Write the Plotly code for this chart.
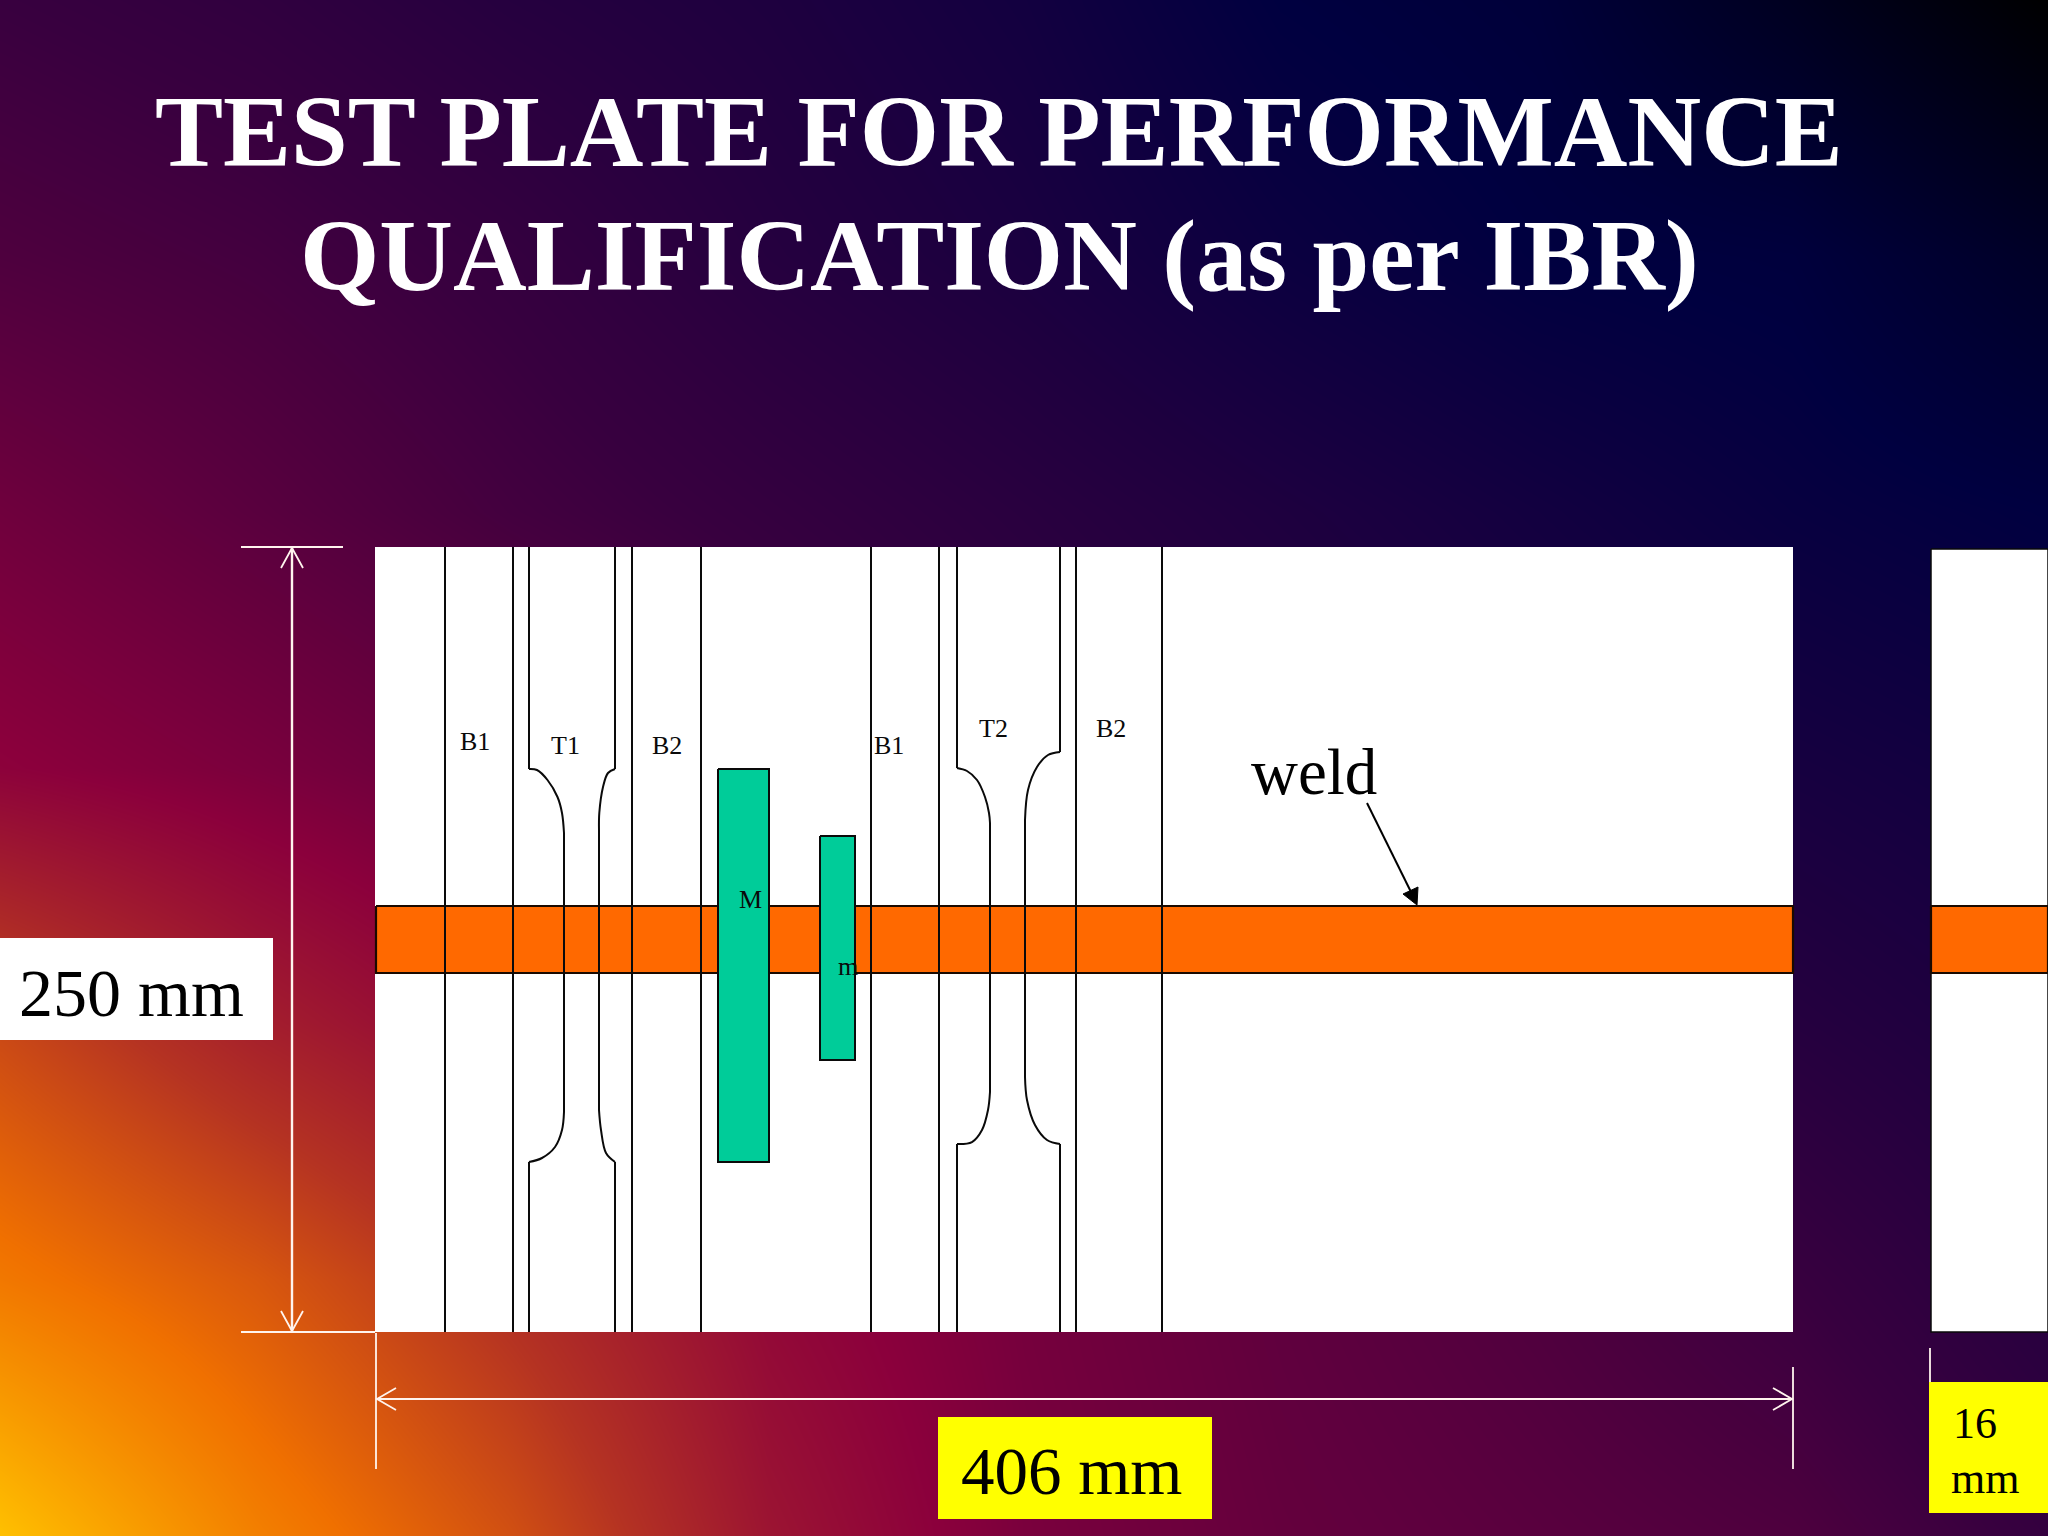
"""Test plate diagram drawn with Plotly on a pixel-sized canvas."""
import plotly.graph_objects as go

W, H = 2048, 1536
SERIF = "Liberation Serif"

# background tone: rows top to bottom, columns left to right
bg_x = [0, 256, 512, 768, 1024, 1280, 1536, 1792, 2048]
bg_y = [0, 256, 512, 768, 1024, 1280, 1536]
bg_t = [
    [0.35, 0.33, 0.30, 0.28, 0.25, 0.20, 0.18, 0.10, 0.00],
    [0.39, 0.37, 0.34, 0.30, 0.27, 0.23, 0.20, 0.19, 0.12],
    [0.45, 0.41, 0.37, 0.34, 0.31, 0.28, 0.25, 0.22, 0.20],
    [0.505, 0.47, 0.43, 0.38, 0.34, 0.31, 0.28, 0.26, 0.24],
    [0.70, 0.59, 0.51, 0.44, 0.39, 0.34, 0.31, 0.30, 0.27],
    [0.82, 0.74, 0.63, 0.52, 0.46, 0.42, 0.39, 0.35, 0.30],
    [1.00, 0.84, 0.72, 0.56, 0.47, 0.43, 0.41, 0.39, 0.34],
]
bg_ramp = [
    [0.00, "#000000"],
    [0.20, "#000040"],
    [0.35, "#38003f"],
    [0.50, "#8b003c"],
    [0.65, "#b53322"],
    [0.80, "#f07000"],
    [1.00, "#ffc000"],
]

plate_x = [375, 1793]
plate_y = [547, 1332]
side_plate_x = [1931, 2048]
side_plate_y = [549, 1332]
weld_y = [906, 973]
weld_x = [376, 1793]
side_weld_x = [1931, 2048]
macro_x = [718, 769]
macro_y = [769, 1162]
micro_x = [820, 855]
micro_y = [836, 1060]

cut_x = [445, 513, 632, 701, 871, 939, 1076, 1162]

# tensile specimen edges: outer line, shoulder curve, neck, shoulder curve, outer line
t1_left_top = ([529, 537, 547.5, 557.5, 562, 564], [769, 770, 780, 797, 813, 833])
t1_left_bot = ([564, 562, 555, 542, 529], [1112, 1130, 1147, 1158, 1162])
t1_right_top = ([615, 608, 603, 599.3, 599], [769, 773, 787, 813, 830])
t1_right_bot = ([599, 601, 606, 615], [1110, 1130, 1153, 1162])
t2_left_top = ([957, 967, 977, 985, 989, 990], [768, 771, 780, 797, 813, 823])
t2_left_bot = ([990, 988, 982, 972, 957], [1092, 1110, 1130, 1142, 1144])
t2_right_top = ([1060, 1048, 1037, 1028, 1025], [752, 755, 767, 790, 820])
t2_right_bot = ([1025, 1027, 1035, 1047, 1060], [1077, 1100, 1125, 1140, 1144])

specimen_labels = ["B1", "T1", "B2", "M", "m", "B1", "T2", "B2"]
specimen_label_x = [475, 565, 667, 750, 848, 889, 993, 1111]
specimen_label_y = [741, 745, 745, 899, 966, 745, 728, 728]

weld_arrow_x = [1367, 1411]
weld_arrow_y = [803, 892]
weld_head_x = [1403, 1418, 1417, 1403]
weld_head_y = [894, 887, 905, 894]

title_lines = ["TEST PLATE FOR PERFORMANCE", "QUALIFICATION (as per IBR)"]
title_y = [131, 255]


def rect(xs, ys, fill, line_color=None, line_width=0):
    return go.Scatter(
        x=[xs[0], xs[1], xs[1], xs[0], xs[0]],
        y=[ys[0], ys[0], ys[1], ys[1], ys[0]],
        mode="lines",
        fill="toself",
        fillcolor=fill,
        line=dict(color=line_color or fill, width=line_width),
        hoverinfo="skip",
    )


def line(xs, ys, color="#0a0a0a", width=2, smooth=False):
    return go.Scatter(
        x=xs,
        y=ys,
        mode="lines",
        line=dict(color=color, width=width, shape="spline" if smooth else "linear"),
        hoverinfo="skip",
    )


fig = go.Figure()

fig.add_trace(go.Heatmap(
    x=bg_x, y=bg_y, z=bg_t, zmin=0, zmax=1,
    colorscale=bg_ramp, zsmooth="best", showscale=False, hoverinfo="skip",
))

# plates and weld bead
fig.add_trace(rect(plate_x, plate_y, "#ffffff"))
fig.add_trace(rect(side_plate_x, side_plate_y, "#ffffff", "#0a0a0a", 1.5))
fig.add_trace(rect(weld_x, weld_y, "#ff6900", "#1a0a00", 2.2))
fig.add_trace(rect(side_weld_x, weld_y, "#ff6900", "#1a0a00", 2.2))

# straight cut lines
for x in cut_x:
    fig.add_trace(line([x, x], plate_y))

# tensile specimens
for top, bot in [(t1_left_top, t1_left_bot), (t1_right_top, t1_right_bot),
                 (t2_left_top, t2_left_bot), (t2_right_top, t2_right_bot)]:
    fig.add_trace(line([top[0][0], top[0][0]], [plate_y[0], top[1][0]]))
    fig.add_trace(line(top[0], top[1], smooth=True))
    fig.add_trace(line([top[0][-1], bot[0][0]], [top[1][-1], bot[1][0]]))
    fig.add_trace(line(bot[0], bot[1], smooth=True))
    fig.add_trace(line([bot[0][-1], bot[0][-1]], [bot[1][-1], plate_y[1]]))

# macro and micro specimens
fig.add_trace(rect(macro_x, macro_y, "#00cc99", "#0a0a0a", 2))
fig.add_trace(rect(micro_x, micro_y, "#00cc99", "#0a0a0a", 2))

# weld pointer
fig.add_trace(line(weld_arrow_x, weld_arrow_y, color="#000000", width=2))
fig.add_trace(go.Scatter(
    x=weld_head_x, y=weld_head_y, mode="lines", fill="toself", fillcolor="#000000",
    line=dict(color="#000000", width=1), hoverinfo="skip",
))

# dimension lines
dim = dict(color="#fff4ee", width=1.8)
fig.add_trace(line([241, 343], [547, 547], **dim))
fig.add_trace(line([241, 375], [1332, 1332], **dim))
fig.add_trace(line([292, 292], [547, 1332], color="#fff4ee", width=2.4))
fig.add_trace(line([281, 292, 303], [568, 548, 568], **dim))
fig.add_trace(line([281, 292, 303], [1311, 1331, 1311], **dim))
fig.add_trace(line([376, 376], [1333, 1469], **dim))
fig.add_trace(line([1793, 1793], [1367, 1469], **dim))
fig.add_trace(line([376, 1793], [1399, 1399], **dim))
fig.add_trace(line([396, 377, 396], [1388, 1399, 1410], **dim))
fig.add_trace(line([1773, 1792, 1773], [1388, 1399, 1410], **dim))
fig.add_trace(line([1930, 1930], [1348, 1382], **dim))

# label boxes
fig.add_trace(rect([0, 273], [938, 1040], "#ffffff"))
fig.add_trace(rect([938, 1212], [1417, 1519], "#ffff00"))
fig.add_trace(rect([1929, 2048], [1382, 1513], "#ffff00"))

annotations = [
    dict(x=x, y=y, text=t, showarrow=False, xanchor="center", yanchor="middle",
         font=dict(family=SERIF, size=26, color="#0a0a0a"))
    for t, x, y in zip(specimen_labels, specimen_label_x, specimen_label_y)
]
for text, x, y, size in [("weld", 1314, 772, 65), ("250 mm", 131, 993, 68),
                         ("406 mm", 1071, 1471, 67), ("16", 1975, 1423, 44),
                         ("mm", 1985, 1478, 44)]:
    annotations.append(dict(x=x, y=y, text=text, showarrow=False,
                            xanchor="center", yanchor="middle",
                            font=dict(family=SERIF, size=size, color="#000000")))
for text, y in zip(title_lines, title_y):
    annotations.append(dict(x=999, y=y, text=text, showarrow=False,
                            xanchor="center", yanchor="middle",
                            font=dict(family=SERIF, size=102, color="#ffffff", weight="bold")))

fig.update_layout(
    width=W, height=H, autosize=False,
    margin=dict(l=0, r=0, t=0, b=0),
    showlegend=False,
    paper_bgcolor="#200040",
    plot_bgcolor="#200040",
    xaxis=dict(range=[0, W], visible=False, fixedrange=True),
    yaxis=dict(range=[H, 0], visible=False, fixedrange=True),
    annotations=annotations,
)

fig.write_html("out.html", config={"displayModeBar": False},
               post_script="document.body.style.margin='0';")
